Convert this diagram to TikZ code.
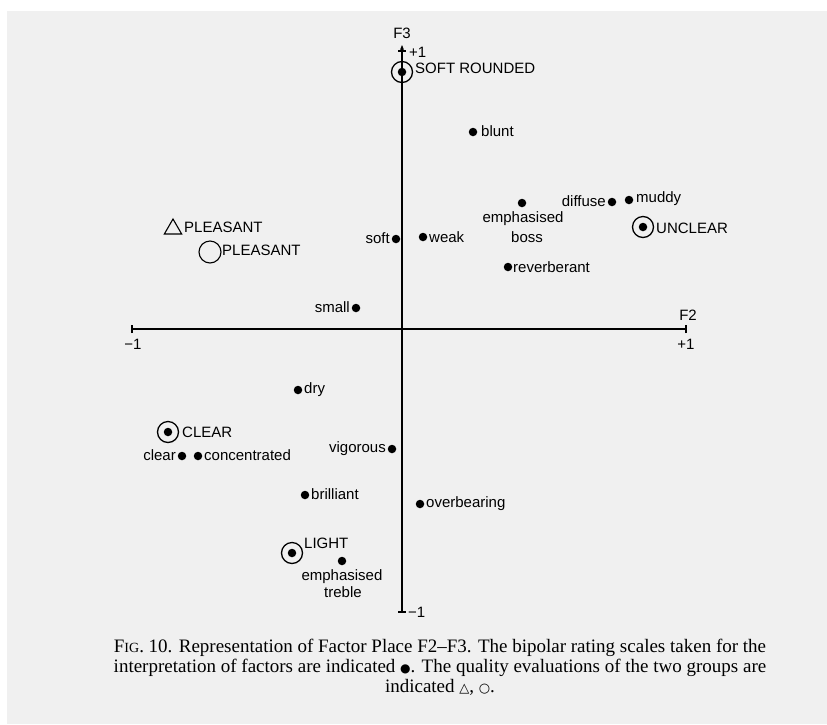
\documentclass[tikz,border=0pt]{standalone}
\usepackage{fontspec}
\setmainfont{Liberation Serif}
\newfontfamily\labf{Liberation Sans}
\newfontfamily\symf{DejaVu Sans}
\usetikzlibrary{arrows.meta,shapes.geometric}
\begin{document}
\begin{tikzpicture}[x=1pt,y=-1pt,
  lab/.style={font=\labf\fontsize{15}{17}\selectfont, inner sep=0pt},
  dotm/.style={circle, fill=black, inner sep=0pt, minimum size=8.5pt},
  ringm/.style={circle, draw=black, line width=1.3pt, inner sep=0pt, minimum size=21pt},
  openm/.style={circle, draw=black, line width=1.1pt, inner sep=0pt, minimum size=22pt},
  trim/.style={regular polygon, regular polygon sides=3, draw=black, line width=1.1pt, inner sep=0pt, minimum size=20pt},
  axisline/.style={line width=1.2pt},
  captext/.style={font=\fontsize{19}{21}\selectfont, inner sep=0pt, anchor=base}
]
\useasboundingbox (0,0) rectangle (827,724);
\fill[white] (0,0) rectangle (827,724);
\fill[black!6] (7,11) rectangle (827,724);

% axes
\coordinate (L) at (132,329);
\coordinate (R) at (686,329);
\coordinate (T) at (402,45);
\coordinate (B) at (402,612);
\draw[axisline] (L) -- (R);
\draw[axisline,-{Stealth[length=5pt,width=4pt]}] (B) -- (T);
\draw[axisline] ([yshift=-4pt]L) -- ([yshift=4pt]L);
\draw[axisline] ([yshift=-4pt]R) -- ([yshift=4pt]R);
\draw[axisline] ([xshift=-4pt]B) -- ([xshift=4pt]B);
\draw[axisline] ([xshift=-4pt,yshift=-6pt]T) -- ([xshift=4pt,yshift=-6pt]T);

\node[lab] (F3) at (402,33) {F3};
\node[lab, anchor=west] (F3p) at (409,52) {+1};
\node[lab, anchor=west] (F3m) at (408,612) {−1};
\node[lab] (F2) at (688,315) {F2};
\node[lab] (F2p) at (686,344) {+1};
\node[lab] (F2m) at (133,344) {−1};

% soft rounded
\node[ringm] (srR) at (402,72) {};
\node[dotm] (srD) at (402,72) {};
\node[lab, anchor=west] (srL) at (415,68) {SOFT ROUNDED};

\node[dotm] (blD) at (473,132) {};
\node[lab, anchor=west] (blL) at (481,131) {blunt};

\node[dotm] (ebD) at (522,203) {};
\node[lab] (ebL1) at (523,219) {emphasised};
\node[lab] (ebL2) at (527,237) {boss};

\node[dotm] (dfD) at (612,202) {};
\node[lab, anchor=east] (dfL) at (606,201) {diffuse};

\node[dotm] (mdD) at (629,200) {};
\node[lab, anchor=west] (mdL) at (636,199) {muddy};

\node[ringm] (ucR) at (643,227) {};
\node[dotm] (ucD) at (643,227) {};
\node[lab, anchor=west] (ucL) at (656,228) {UNCLEAR};

\node[dotm] (rvD) at (508,267) {};
\node[lab, anchor=west] (rvL) at (513,267) {reverberant};

\node[dotm] (wkD) at (423,237) {};
\node[lab, anchor=west] (wkL) at (429,237) {weak};

\node[dotm] (sfD) at (396,239) {};
\node[lab, anchor=east] (sfL) at (390,238) {soft};

\node[trim] (plT) at (173,229) {};
\node[lab, anchor=west] (plTL) at (184,227) {PLEASANT};

\node[openm] (plO) at (210,252) {};
\node[lab, anchor=west] (plOL) at (222,250) {PLEASANT};

\node[dotm] (smD) at (356,308) {};
\node[lab, anchor=east] (smL) at (350,307) {small};

\node[dotm] (dyD) at (298,390) {};
\node[lab, anchor=west] (dyL) at (304,390) {dry};

\node[ringm] (clR) at (168,432) {};
\node[dotm] (clD) at (168,432) {};
\node[lab, anchor=west] (clL) at (182,432) {CLEAR};

\node[dotm] (cl2D) at (182,456) {};
\node[lab, anchor=east] (cl2L) at (176,455) {clear};

\node[dotm] (coD) at (198,456) {};
\node[lab, anchor=west] (coL) at (204,455) {concentrated};

\node[dotm] (viD) at (392,449) {};
\node[lab, anchor=east] (viL) at (386,449) {vigorous};

\node[dotm] (brD) at (305,495) {};
\node[lab, anchor=west] (brL) at (311,494) {brilliant};

\node[dotm] (obD) at (420,504) {};
\node[lab, anchor=west] (obL) at (426,504) {overbearing};

\node[ringm] (lgR) at (292,553) {};
\node[dotm] (lgD) at (292,553) {};
\node[lab, anchor=west] (lgL) at (304,543) {LIGHT};

\node[dotm] (etD) at (342,561) {};
\node[lab] (etL1) at (342,577) {emphasised};
\node[lab] (etL2) at (343,592) {treble};

% caption
\node[captext] (c1) at (440,652) {F{\fontsize{14}{16}\selectfont IG}. 10. Representation of Factor Place F2–F3. The bipolar rating scales taken for the};
\node[captext] (c2) at (440,672) {interpretation of factors are indicated {\symf\fontsize{12}{14}\selectfont ●}. The quality evaluations of the two groups are};
\node[captext] (c3) at (440,692) {indicated {\symf\fontsize{13}{14}\selectfont △}, {\symf\fontsize{13}{14}\selectfont ○}.};
\end{tikzpicture}
\end{document}
